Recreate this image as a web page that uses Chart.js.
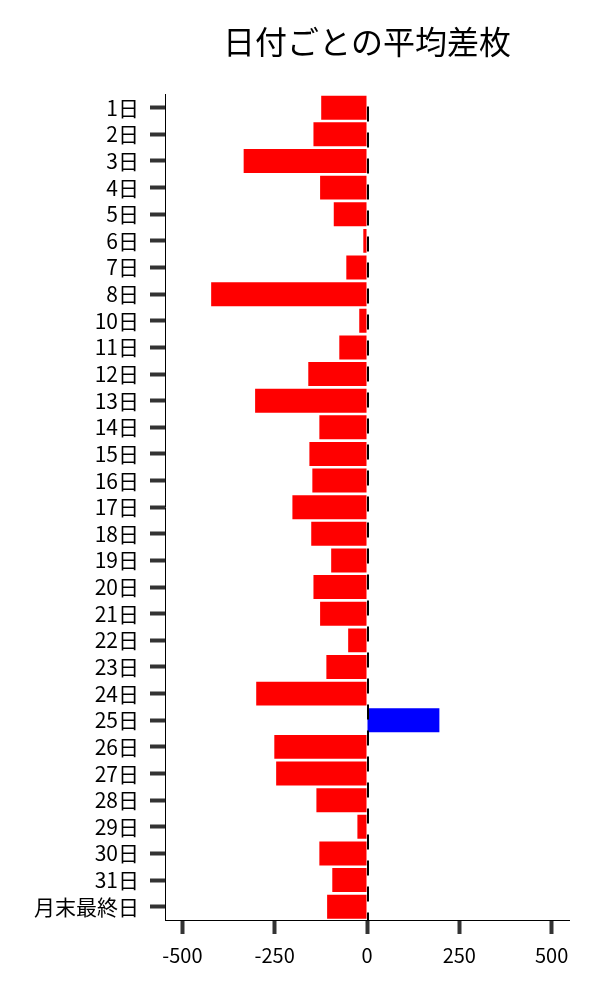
<!DOCTYPE html>
<html>
<head>
<meta charset="utf-8">
<script src="https://cdn.jsdelivr.net/npm/chart.js@4/dist/chart.umd.min.js"></script>
<style>
  html, body { margin: 0; padding: 0; background: #fff; }
  #wrap { width: 600px; height: 1000px; }
</style>
</head>
<body>
<div id="wrap"><canvas id="chart" width="600" height="1000"></canvas></div>
<script>
const days = ['1日', '2日', '3日', '4日', '5日', '6日', '7日', '8日', '10日', '11日',
    '12日', '13日', '14日', '15日', '16日', '17日', '18日', '19日', '20日', '21日',
    '22日', '23日', '24日', '25日', '26日', '27日', '28日', '29日', '30日', '31日', '月末最終日'];
const avgDiff = [-124, -145, -334, -127, -90, -10, -56, -422, -21, -75,
    -159, -303, -129, -156, -148, -202, -151, -97, -145, -127,
    -51, -110, -300, 196, -251, -246, -137, -26, -129, -94, -108];
const xTicks = [-500, -250, 0, 250, 500];

const FONT = '"Noto Sans CJK JP", "Noto Sans", sans-serif';

const zeroLine = {
    id: 'zeroLine',
    afterDatasetsDraw(chart) {
        const ctx = chart.ctx;
        const x = chart.scales.x.getPixelForValue(0);
        const area = chart.chartArea;
        ctx.save();
        ctx.strokeStyle = '#000';
        ctx.lineWidth = 2;
        ctx.setLineDash([15, 11]);
        ctx.beginPath();
        ctx.moveTo(x + 1, area.top + 12);
        ctx.lineTo(x + 1, area.bottom);
        ctx.stroke();
        ctx.restore();
    }
};

new Chart(document.getElementById('chart').getContext('2d'), {
    type: 'bar',
    data: {
        labels: days,
        datasets: [{
            label: '平均差枚',
            data: avgDiff,
            backgroundColor: avgDiff.map(v => v >= 0 ? '#0000ff' : '#ff0000'),
            barPercentage: 0.9,
            categoryPercentage: 1.0
        }]
    },
    options: {
        indexAxis: 'y',
        responsive: false,
        animation: false,
        layout: { padding: { left: 0, right: 31, top: 0, bottom: 0 } },
        plugins: {
            legend: { display: false },
            tooltip: { enabled: false },
            title: {
                display: true,
                text: '日付ごとの平均差枚',
                fullSize: false,
                color: '#000',
                font: { family: FONT, size: 32, weight: 'normal' },
                padding: { top: 23, bottom: 33 }
            }
        },
        scales: {
            x: {
                min: -547,
                max: 547,
                afterBuildTicks: scale => { scale.ticks = xTicks.map(v => ({ value: v })); },
                afterFit: scale => { scale.height = 80; },
                border: { display: true, color: '#000', width: 1 },
                grid: {
                    drawOnChartArea: false,
                    drawTicks: true,
                    tickLength: 14,
                    tickWidth: 4,
                    tickColor: '#333'
                },
                ticks: {
                    color: '#000',
                    padding: 9,
                    maxRotation: 0,
                    font: { family: FONT, size: 20 }
                }
            },
            y: {
                offset: true,
                afterFit: scale => { scale.width = 165; },
                border: { display: true, color: '#000', width: 1 },
                grid: {
                    drawOnChartArea: false,
                    drawTicks: true,
                    tickLength: 15,
                    tickWidth: 4,
                    tickColor: '#333',
                    offset: false
                },
                ticks: {
                    color: '#000',
                    padding: 11,
                    autoSkip: false,
                    font: { family: FONT, size: 21 }
                }
            }
        }
    },
    plugins: [zeroLine]
});
</script>
</body>
</html>
